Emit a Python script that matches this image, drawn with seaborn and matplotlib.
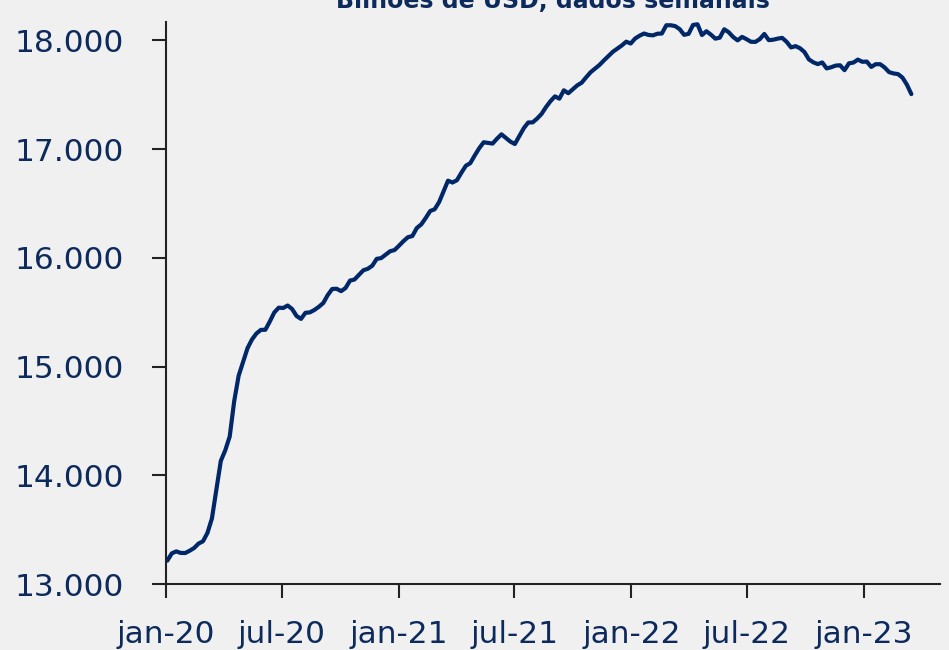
import pandas as pd
import matplotlib
matplotlib.use("Agg")
import matplotlib.pyplot as plt
import matplotlib.dates as mdates
from matplotlib.ticker import FuncFormatter, MultipleLocator
import seaborn as sns

# Weekly series (Fridays)
start_date = "2020-01-03"
reserves = [
    13215, 13282, 13300, 13286, 13285, 13306, 13331, 13372, 13393, 13470,
    13602, 13866, 14132, 14230, 14357, 14680, 14915, 15041, 15169, 15249,
    15304, 15337, 15338, 15414, 15497, 15541, 15538, 15561, 15529, 15465,
    15438, 15494, 15498, 15520, 15549, 15584, 15657, 15713, 15715, 15693,
    15722, 15790, 15800, 15843, 15885, 15899, 15927, 15990, 15997, 16029,
    16060, 16071, 16111, 16153, 16189, 16200, 16274, 16307, 16366, 16430,
    16446, 16512, 16610, 16709, 16692, 16713, 16782, 16846, 16870, 16941,
    17007, 17062, 17056, 17050, 17095, 17135, 17101, 17068, 17046, 17118,
    17191, 17244, 17245, 17280, 17323, 17386, 17440, 17484, 17463, 17540,
    17513, 17549, 17585, 17610, 17659, 17706, 17739, 17773, 17815, 17855,
    17894, 17923, 17952, 17987, 17970, 18016, 18042, 18062, 18049, 18045,
    18060, 18062, 18138, 18138, 18130, 18102, 18050, 18059, 18141, 18147,
    18048, 18083, 18052, 18015, 18024, 18101, 18074, 18030, 17999, 18031,
    18010, 17986, 17985, 18011, 18058, 18001, 18005, 18015, 18022, 17986,
    17934, 17946, 17927, 17892, 17824, 17797, 17781, 17796, 17741, 17752,
    17767, 17770, 17725, 17788, 17795, 17822, 17802, 17804, 17755, 17780,
    17780, 17750, 17707, 17695, 17689, 17657, 17592, 17505,
]
title = "Bilhões de USD, dados semanais"
month_pt = {1: "jan", 7: "jul"}

df = pd.DataFrame({
    "date": pd.date_range(start_date, periods=len(reserves), freq="W-FRI"),
    "value": reserves,
})

BG = "#f0f0f0"
NAVY = "#002868"
TXT = "#0d2a5c"

sns.set_theme(style="white", rc={"axes.facecolor": BG, "figure.facecolor": BG})
plt.rcParams["font.family"] = ["DejaVu Sans"]

fig = plt.figure(figsize=(9.49, 6.5), dpi=100)
ax = fig.add_axes([0.175, 0.1015, 0.8155, 0.865])

sns.lineplot(data=df, x="date", y="value", color=NAVY, linewidth=3, ax=ax)

ax.set_xlim(pd.Timestamp("2020-01-01"), pd.Timestamp("2023-05-01"))
ax.set_ylim(13000, 18170)
ax.yaxis.set_major_locator(MultipleLocator(1000))
ax.yaxis.set_major_formatter(FuncFormatter(lambda v, p: f"{int(v):,}".replace(",", ".")))
ax.xaxis.set_major_locator(mdates.MonthLocator(bymonth=[1, 7]))
ax.xaxis.set_major_formatter(FuncFormatter(
    lambda v, p: f"{month_pt[mdates.num2date(v).month]}-{mdates.num2date(v).strftime('%y')}"))

ax.set_xlabel("")
ax.set_ylabel("")
for side in ["top", "right"]:
    ax.spines[side].set_visible(False)
for side in ["left", "bottom"]:
    ax.spines[side].set_color("#222222")
    ax.spines[side].set_linewidth(1.5)

ax.tick_params(axis="both", direction="out", length=10, width=1.5, color="#222222",
               bottom=True, left=True, labelsize=22.5, labelcolor=TXT)
ax.tick_params(axis="y", pad=20)
ax.tick_params(axis="x", pad=16)

# title sits mostly above the canvas in the source image
fig.text(0.583, 0.9877, title, ha="center", va="baseline", fontsize=17,
         fontweight="bold", color=TXT)

fig.savefig("out.png", dpi=100, facecolor=BG)
